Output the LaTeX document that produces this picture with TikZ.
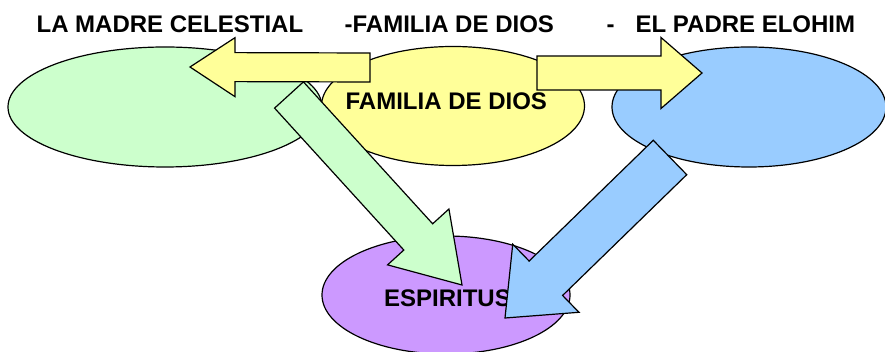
\documentclass[tikz,border=0pt]{standalone}
\usepackage{fontspec}
\setmainfont{Liberation Sans}
\usepackage{tikz}
\usetikzlibrary{calc,shapes.geometric}

\definecolor{madre}{HTML}{CCFFCC}
\definecolor{familia}{HTML}{FFFF99}
\definecolor{padre}{HTML}{99CCFF}
\definecolor{espiritu}{HTML}{CC99FF}

\begin{document}
\begin{tikzpicture}
%   [scale=.8,auto=left,every node/.style={fill=blue!20}]
[x=1pt,y=1pt,line width=1.2pt,
  oval node/.style={ellipse,draw,inner sep=0pt},
  title node/.style={anchor=base west,inner sep=0pt,font=\fontsize{24}{28}\selectfont\bfseries}]

  \useasboundingbox (0,0) rectangle (885,352);

  \node [oval node,fill=madre,minimum width=314,minimum height=120] (Madre) at 	(165,245) 	{};
  \node [oval node,fill=familia,minimum width=263,minimum height=119] (Familia) at 	(453,246) 	{};
  \node [oval node,fill=padre,minimum width=274,minimum height=120] (Padre) at 	(749,245) 	{};
  \node [oval node,fill=espiritu,minimum width=248,minimum height=118] (Espiritu) at 	(446,57) 	{};

  \node [title node] (MadreTitle) at 		(36,319) 	{LA MADRE CELESTIAL};
  \node [title node] (FamiliaTitle) at 		(344,319) 	{-FAMILIA DE DIOS};
  \node [title node] (Dash) at 			(606,319) 	{-};
  \node [title node] (PadreTitle) at 		(635,319) 	{EL PADRE ELOHIM};
  \node [title node] (FamiliaLabel) at 		(345,242) 	{FAMILIA DE DIOS};
  \node [title node] (EspirituLabel) at 	(383.5,45) 	{ESPIRITUS};

  \coordinate (madreTail) at 	(289,257);
  \coordinate (madreTip) at 	(462,67);
  \coordinate (padreTail) at 	(670,194.5);
  \coordinate (padreTip) at 	(505,34);
  \coordinate (toMadreTail) at 	(370,284.5);
  \coordinate (toMadreTip) at 	(190,285);
  \coordinate (toPadreTail) at 	(537,279);
  \coordinate (toPadreTip) at 	(702,279);

   \foreach \from/\to/\shaft/\head/\len/\col in {madreTail/madreTip/19.5/41.5/65/madre,padreTail/padreTip/24/47.5/57/padre,toMadreTail/toMadreTip/14.5/29.5/45/familia,toPadreTail/toPadreTip/17/35.5/41/familia}
   {
     \coordinate (base) at ($(\to)!\len pt!(\from)$);
     \draw [fill=\col,line join=miter] ($(\from)!\shaft pt!90:(\to)$) -- ($(base)!\shaft pt!90:(\to)$)
       -- ($(base)!\head pt!90:(\to)$) -- (\to) -- ($(base)!\head pt!-90:(\to)$)
       -- ($(base)!\shaft pt!-90:(\to)$) -- ($(\from)!\shaft pt!-90:(\to)$) -- cycle;
   }

\end{tikzpicture}
\end{document}
